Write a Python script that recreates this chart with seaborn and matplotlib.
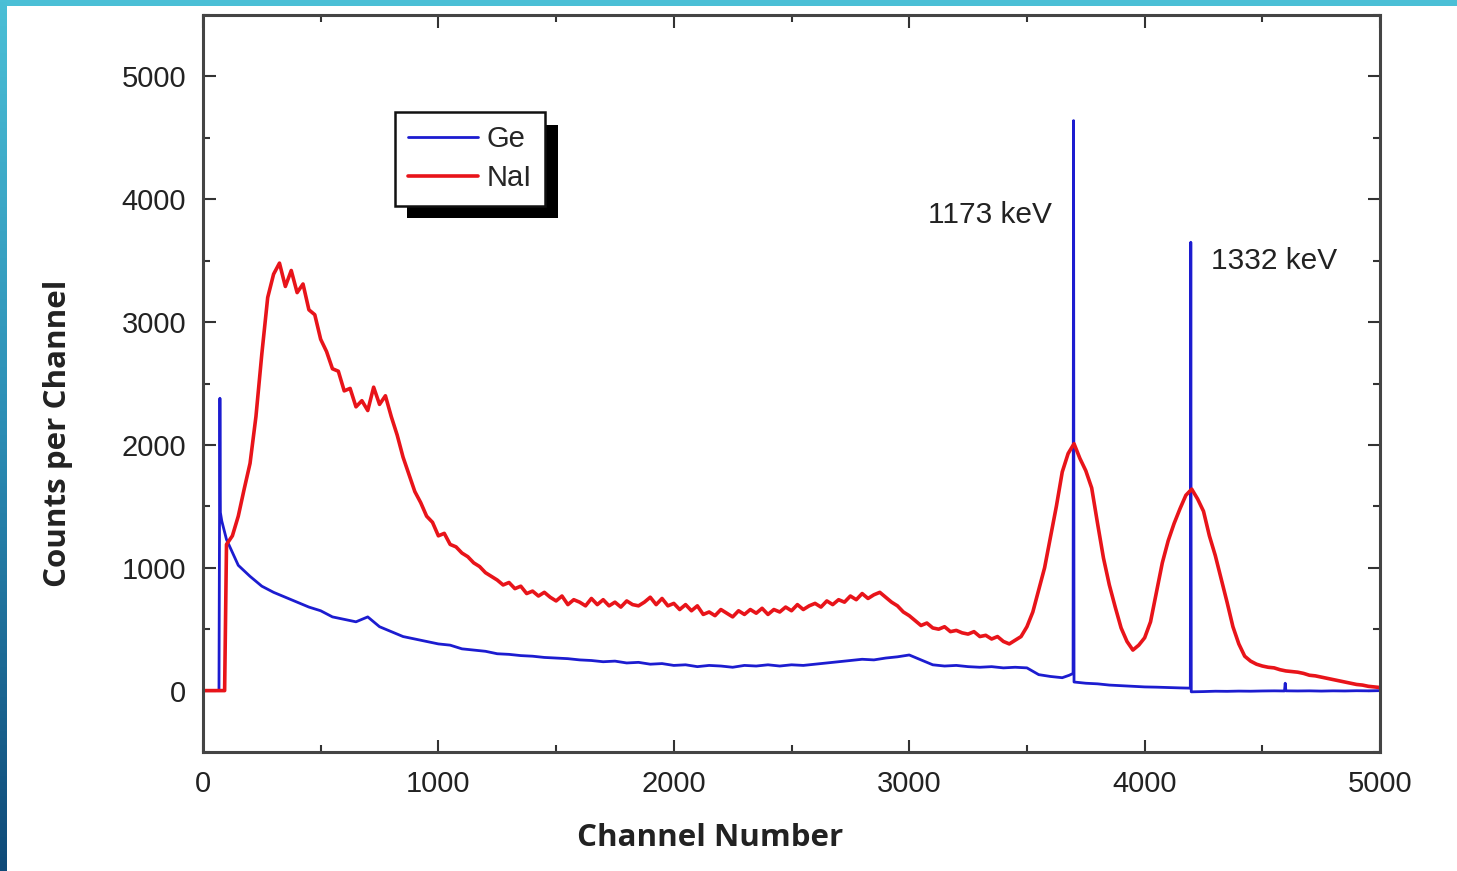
import numpy as np
import pandas as pd
import matplotlib
matplotlib.use("Agg")
import matplotlib.pyplot as plt
import matplotlib.ticker as mticker
import matplotlib.patheffects as pe
import seaborn as sns

# ── Data ──────────────────────────────────────────────────────────────────────
nai_channel = [0, 92] + list(range(100, 5001, 25))
nai_counts = [
    0, 0,
    1190, 1260, 1420, 1640, 1850, 2230, 2740, 3200,
    3390, 3480, 3290, 3420, 3240, 3310, 3100, 3060,
    2860, 2760, 2620, 2600, 2440, 2460, 2310, 2360,
    2280, 2470, 2330, 2400, 2230, 2080, 1900, 1760,
    1620, 1530, 1420, 1370, 1260, 1280, 1190, 1170,
    1120, 1090, 1040, 1010, 960, 930, 900, 860,
    880, 830, 850, 790, 810, 770, 800, 760,
    730, 770, 700, 740, 720, 690, 750, 700,
    740, 690, 720, 680, 730, 700, 690, 720,
    760, 700, 750, 690, 710, 660, 700, 650,
    690, 620, 640, 610, 660, 630, 600, 650,
    620, 660, 630, 670, 620, 660, 640, 680,
    650, 700, 660, 690, 710, 680, 730, 700,
    740, 720, 770, 740, 790, 750, 780, 800,
    760, 720, 690, 640, 610, 570, 530, 550,
    510, 500, 520, 480, 490, 470, 460, 480,
    440, 450, 420, 440, 400, 380, 410, 440,
    520, 640, 820, 1000, 1250, 1500, 1780, 1930,
    2010, 1890, 1790, 1650, 1360, 1080, 860, 680,
    510, 400, 330, 370, 430, 560, 800, 1040,
    1220, 1360, 1480, 1590, 1640, 1560, 1460, 1260,
    1100, 910, 720, 520, 380, 280, 240, 215,
    200, 190, 185, 170, 160, 155, 150, 140,
    125, 120, 110, 100, 90, 80, 70, 60,
    50, 45, 35, 30, 25,
]

ge_channel = ([0, 68, 72, 74, 80] + list(range(100, 3651, 50))
              + [3680, 3696, 3698, 3700] + list(range(3750, 4151, 50))
              + [4194, 4196, 4198] + list(range(4250, 4551, 50))
              + [4594, 4597, 4600] + list(range(4650, 5001, 50)))
ge_counts = [
    0, 0, 2380, 1450, 1380,
    1230, 1020, 930, 850, 800, 760, 720, 680,
    650, 600, 580, 560, 600, 520, 480, 440,
    420, 400, 380, 370, 340, 330, 320, 300,
    295, 285, 280, 270, 265, 260, 250, 245,
    235, 240, 225, 230, 215, 220, 205, 210,
    195, 205, 200, 190, 205, 200, 210, 200,
    210, 205, 215, 225, 235, 245, 255, 250,
    265, 275, 290, 250, 210, 200, 205, 195,
    190, 195, 185, 190, 185, 130, 115, 105,
    125, 140, 4640, 70,
    60, 55, 45, 40, 35, 30, 28, 25, 22,
    20, 3650, -10,
    -8, -5, -6, -4, -5, -3, -2,
    -3, 60, -2,
    -3, -2, -4, -2, -3, -1, -2, 0,
]

peak_labels = ["1173 keV", "1332 keV"]
peak_text_x = [3080, 4280]
peak_text_y = [3870, 3500]

GE_COLOR = "#1c1cd0"
NAI_COLOR = "#e8141a"

# ── Plot ──────────────────────────────────────────────────────────────────────
sns.set_theme(style="ticks")
plt.rcParams["font.family"] = ["Liberation Sans", "DejaVu Sans"]

ge = pd.DataFrame({"channel": ge_channel, "counts": ge_counts})
nai = pd.DataFrame({"channel": nai_channel, "counts": nai_counts})

fig = plt.figure(figsize=(14.57, 8.71), dpi=100)
ax = fig.add_axes([0.1393, 0.1366, 0.8079, 0.8462])

sns.lineplot(data=ge, x="channel", y="counts", ax=ax, color=GE_COLOR,
             linewidth=2.0, estimator=None, sort=False, label="Ge")
sns.lineplot(data=nai, x="channel", y="counts", ax=ax, color=NAI_COLOR,
             linewidth=2.6, estimator=None, sort=False, label="NaI")

ax.set_xlim(0, 5000)
ax.set_ylim(-500, 5500)
ax.set_xticks(range(0, 5001, 1000))
ax.set_yticks(range(0, 5001, 1000))
ax.xaxis.set_minor_locator(mticker.MultipleLocator(500))
ax.yaxis.set_minor_locator(mticker.MultipleLocator(500))
ax.tick_params(which="both", direction="in", top=True, right=True,
               color="#333333", width=1.5, labelsize=21, labelcolor="#222222")
ax.tick_params(which="major", length=9)
ax.tick_params(which="minor", length=5)
ax.tick_params(axis="x", pad=13)
ax.tick_params(axis="y", pad=12)
for sp in ax.spines.values():
    sp.set_color("#444444")
    sp.set_linewidth(2.2)

ax.set_xlabel("Channel Number", fontsize=22.5, fontweight="bold",
              family=["Open Sans", "DejaVu Sans"], color="#222222")
ax.set_ylabel("Counts per Channel", fontsize=22.5, fontweight="bold",
              family=["Open Sans", "DejaVu Sans"], color="#222222")
ax.xaxis.set_label_coords(0.431, -0.096)
ax.yaxis.set_label_coords(-0.110, 0.433)

for lbl, tx, ty in zip(peak_labels, peak_text_x, peak_text_y):
    ax.text(tx, ty, lbl, fontsize=21.5, color="#222222", va="center", ha="left")

leg = ax.legend(loc="upper left", bbox_to_anchor=(0.163, 0.868),
                borderaxespad=0, fontsize=21, handlelength=2.4,
                handletextpad=0.3, labelspacing=0.38, borderpad=0.45,
                fancybox=False, framealpha=1, edgecolor="#111111")
leg.get_frame().set_linewidth(1.8)
leg.get_frame().set_path_effects([
    pe.SimplePatchShadow(offset=(9, -9), shadow_rgbFace="black", alpha=1),
    pe.Normal()])

# slide frame bars (top cyan, left gradient)
top_bar = fig.add_axes([0, 1 - 6 / 871, 1, 6 / 871])
top_bar.set_axis_off()
top_bar.add_patch(plt.Rectangle((0, 0), 1, 1, color="#4bbfd6",
                                transform=top_bar.transAxes))
left_bar = fig.add_axes([0, 0, 7 / 1457, 1])
left_bar.set_axis_off()
grad = np.linspace(0, 1, 256).reshape(-1, 1)
cmap = matplotlib.colors.LinearSegmentedColormap.from_list(
    "frame", ["#4bbfd6", "#2b8cb4", "#0f4a78"])
left_bar.imshow(grad, aspect="auto", cmap=cmap)

fig.savefig("out.png", dpi=100)
plt.close(fig)
